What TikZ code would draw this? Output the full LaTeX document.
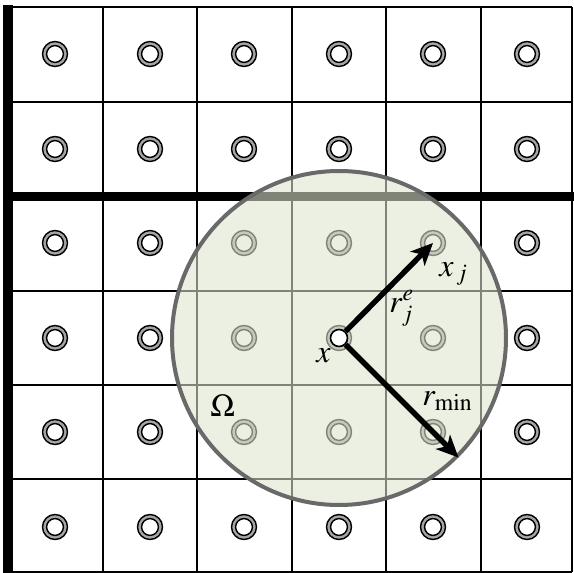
\documentclass[tikz,border=0pt]{standalone}
\usepackage{mathptmx}
\usetikzlibrary{arrows.meta}
\definecolor{ringgray}{RGB}{165,165,165}
\definecolor{omegafill}{RGB}{221,229,207}
\definecolor{omegaline}{RGB}{105,105,105}
\tikzset{
	ring/.style={circle, draw=black, line width=0.7pt, fill=ringgray, minimum size=12.5pt, inner sep=0pt,
			path picture={\draw[line width=0.7pt, fill=white] (path picture bounding box.center) circle (4.2pt);}},
	gridline/.style={line width=0.8pt},
	thickline/.style={line width=4.5pt},
	vecarrow/.style={line width=2.7pt, -{Stealth[length=11pt,width=10pt,inset=3pt]}},
	lab/.style={inner sep=0pt, anchor=base west, font=\fontsize{16}{19}\selectfont}
}
\begin{document}
\begin{tikzpicture}[x=0.5pt, y=-0.5pt]
        \useasboundingbox (0,0) rectangle (574,573);
        % cells
        \foreach \gx in {103,197,292,386,481,572}
            \draw[gridline] (\gx,7) -- (\gx,572);
        \foreach \gy in {7,102,291,385,479,572}
            \draw[gridline] (8,\gy) -- (572,\gy);
        \draw[thickline] (8,5) -- (8,573);
        \draw[thickline] (4,196.5) -- (574,196.5);

        \foreach \cx [count=\i] in {55,150,244,339,433,527}
            \foreach \cy [count=\j] in {54,149,243,338,432,527}
                \node[ring] (c\i\j) at (\cx,\cy) {};

        % support domain
        \node[circle, minimum size=167pt, inner sep=0pt, fill=omegafill, fill opacity=0.58, draw=omegaline, line width=2pt] (omega) at (c44) {};
        \node[circle, draw=black, line width=0.8pt, fill=white, minimum size=8.5pt, inner sep=0pt] (xc) at (c44) {};

        \draw[vecarrow] (xc) -- (c53.center);
        \draw[vecarrow] (xc) -- (omega.-45);

        \node[lab] (xjlab) at (439,276) {$x_{\,j}$};
        \node[lab] (rjlab) at (389,312) {$r_j^e$};
        \node[lab] (xlab) at (316,362) {$x$};
        \node[lab] (rminlab) at (422,405) {$r_{\min}$};
        \node[lab] (omegalab) at (210,416) {$\Omega$};
    \end{tikzpicture}
\end{document}
